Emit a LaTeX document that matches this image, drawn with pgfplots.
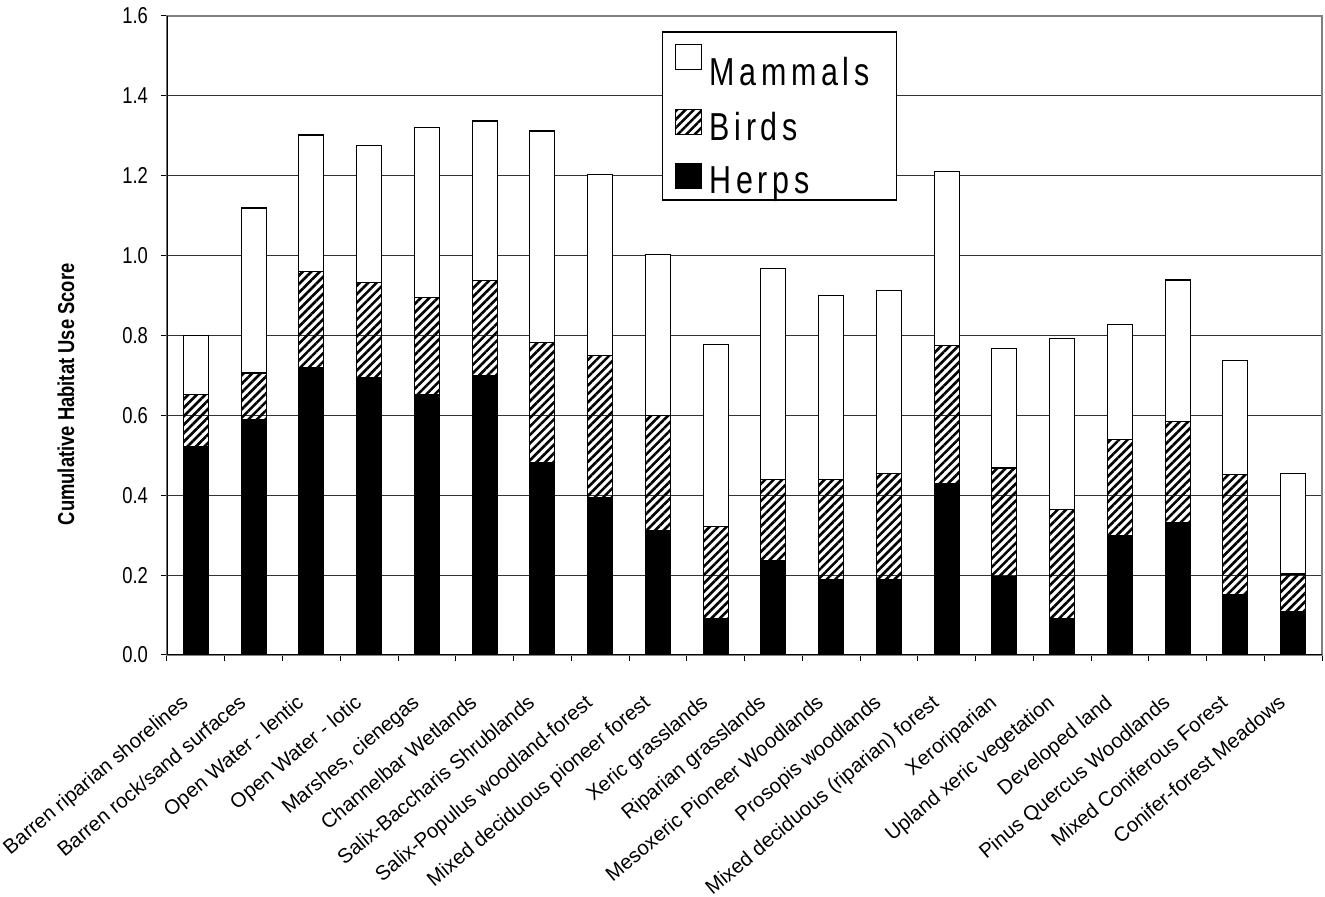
\documentclass[border=0pt]{standalone}
\usepackage{pgfplots}
\usepackage{pgfplotstable}
\pgfplotsset{compat=1.18}
\usepackage{fontspec}
\setmainfont[FakeStretch=0.8]{Liberation Sans}
\newfontfamily\xlfont{Liberation Sans}
\newfontfamily\legfont[FakeStretch=0.78, LetterSpace=12]{Liberation Sans}
\usetikzlibrary{patterns.meta}

% stacked segments: herps (bottom), birds, mammals (top)
\pgfplotstableread{
idx herps birds mammals
0  0.521 0.131 0.147
1  0.590 0.116 0.413
2  0.719 0.241 0.342
3  0.694 0.238 0.344
4  0.651 0.245 0.424
5  0.699 0.239 0.399
6  0.482 0.300 0.530
7  0.393 0.357 0.454
8  0.312 0.287 0.404
9  0.091 0.230 0.457
10 0.237 0.203 0.527
11 0.190 0.250 0.461
12 0.190 0.265 0.458
13 0.428 0.346 0.437
14 0.197 0.271 0.299
15 0.091 0.274 0.428
16 0.299 0.240 0.289
17 0.332 0.252 0.355
18 0.150 0.302 0.286
19 0.109 0.094 0.252
}\habitat

\begin{document}
\begin{tikzpicture}
\useasboundingbox (-83.5pt,-121pt) rectangle (579pt,327.5pt);
\begin{axis}[
    width=577.5pt, height=319.5pt, scale only axis,
    ybar stacked, bar width=12.5pt,
    xmin=-0.5, xmax=19.5, ymin=0, ymax=1.6,
    xtick={0,...,19},
    xticklabels={Barren riparian shorelines, Barren rock/sand surfaces, Open Water - lentic, Open Water - lotic, {Marshes, cienegas}, Channelbar Wetlands, Salix-Baccharis Shrublands, Salix-Populus woodland-forest, Mixed deciduous pioneer forest, Xeric grasslands, Riparian grasslands, Mesoxeric Pioneer Woodlands, Prosopis woodlands, Mixed deciduous (riparian) forest, Xeroriparian, Upland xeric vegetation, Developed land, Pinus Quercus Woodlands, Mixed Coniferous Forest, Conifer-forest Meadows},
    minor xtick={-0.5,0.5,...,19.5},
    major x tick style={draw=none},
    minor x tick style={black, line width=0.5pt},
    ytick={0,0.2,...,1.6},
    y tick style={black, line width=0.5pt},
    tick align=outside, major tick length=3pt, minor tick length=3pt,
    xtick pos=lower, ytick pos=left,
    yticklabel style={/pgf/number format/fixed, /pgf/number format/precision=1, /pgf/number format/fixed zerofill, /pgf/number format/assume math mode=true, font=\fontsize{11.5}{13}\selectfont, xshift=-3pt},
    xticklabel style={font=\xlfont\fontsize{10.2}{12}\selectfont, inner sep=0pt, xshift=-8pt, yshift=-16pt, rotate=40, anchor=north east},
    ymajorgrids, grid style={black!80, line width=0.5pt},
    axis line style={draw=gray, line width=0.6pt},
    ylabel={\bfseries Cumulative Habitat Use Score},
    every axis y label/.style={at={(axis description cs:-0.0875,0.408)}, rotate=90, anchor=center, font=\fontsize{11.5}{13}\selectfont},
    reverse legend,
    legend style={at={(0.4285,0.976)}, anchor=north west, draw=black, line width=0.6pt, fill=white,
        font=\legfont\fontsize{19.5}{22}\selectfont, row sep=7.5pt, inner xsep=6pt, inner ysep=0pt},
    legend cell align=left,
    sq/.style={legend image code/.code={\draw[##1, line width=0.6pt] (0pt,-3.5pt) rectangle (13pt,9pt);}},
]
\addplot[fill=black, draw=black, line width=0.6pt, sq] table[x=idx, y=herps] {\habitat};
\addlegendentry{\hspace{2pt}\raisebox{0pt}[\height][0pt]{Herps}}
\addplot[draw=black, line width=0.6pt, pattern={Lines[angle=45, distance=3pt, line width=1.3pt]}, sq] table[x=idx, y=birds] {\habitat};
\addlegendentry{\hspace{2pt}Birds}
\addplot[fill=white, draw=black, line width=0.6pt, sq] table[x=idx, y=mammals] {\habitat};
\addlegendentry{\hspace{2pt}\rule{0pt}{25pt}Mammals\hspace*{5.5pt}}
\draw[black, line width=0.8pt] (rel axis cs:0,1) -- (rel axis cs:0,0) -- (rel axis cs:1,0);
\end{axis}
\end{tikzpicture}
\end{document}
